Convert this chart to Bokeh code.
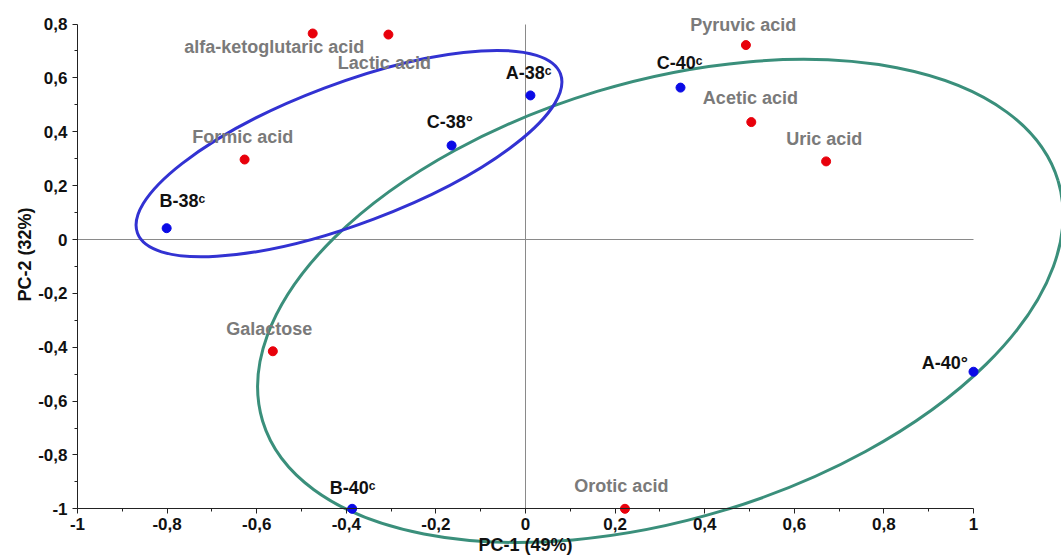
from bokeh.plotting import figure
from bokeh.models import LinearAxis, FixedTicker, CustomJSTickFormatter, Range1d, ColumnDataSource
from bokeh.core.properties import value
from bokeh.embed import file_html
from bokeh.resources import INLINE
import math

# ---------------- data ----------------
# metabolites (red)
met_names = ["alfa-ketoglutaric acid", "Lactic acid", "Formic acid", "Galactose",
             "Orotic acid", "Pyruvic acid", "Acetic acid", "Uric acid"]
met_x = [-0.475, -0.306, -0.627, -0.564, 0.222, 0.492, 0.504, 0.671]
met_y = [0.765, 0.761, 0.297, -0.415, -1.000, 0.722, 0.436, 0.290]
met_label_x = [-0.561, -0.315, -0.631, -0.572, 0.214, 0.486, 0.502, 0.667]
met_label_y = [0.713, 0.655, 0.381, -0.334, -0.916, 0.796, 0.525, 0.374]

# samples (blue)
smp_names = ["B-38\u1d9c", "C-38\u00b0", "A-38\u1d9c", "C-40\u1d9c", "A-40\u00b0", "B-40\u1d9c"]
smp_x = [-0.801, -0.165, 0.011, 0.346, 1.000, -0.387]
smp_y = [0.042, 0.349, 0.535, 0.564, -0.491, -1.000]
smp_label_x = [-0.766, -0.169, 0.007, 0.344, 0.936, -0.386]
smp_label_y = [0.142, 0.436, 0.618, 0.654, -0.459, -0.923]

# confidence ellipses: center (data), size (px), angle (deg)
ell_38 = dict(cx=-0.394, cy=0.319, w=452, h=140, angle=20.65)
ell_40 = dict(cx=0.301, cy=-0.228, w=831, h=438, angle=16.8)

x_ticks = [-1, -0.8, -0.6, -0.4, -0.2, 0, 0.2, 0.4, 0.6, 0.8, 1]
x_tick_labels = ["-1", "-0,8", "-0,6", "-0,4", "-0,2", "0", "0,2", "0,4", "0,6", "0,8", "1"]
x_minor = [-0.9, -0.7, -0.5, -0.3, -0.1, 0.1, 0.3, 0.5, 0.7, 0.9]
y_ticks = [-1, -0.8, -0.6, -0.4, -0.2, 0, 0.2, 0.4, 0.6, 0.8]
y_tick_labels = ["-1", "-0,8", "-0,6", "-0,4", "-0,2", "0", "0,2", "0,4", "0,6", "0,8"]
y_minor = [-0.9, -0.7, -0.5, -0.3, -0.1, 0.1, 0.3, 0.5, 0.7]

FONT = value("Liberation Sans")

p = figure(width=1061, height=560, output_backend="svg", toolbar_location=None,
           x_range=Range1d(-1.17188, 1.19643), y_range=Range1d(-1.19198, 0.88749),
           x_axis_location=None, y_axis_location=None, min_border=0)
p.outline_line_color = None
p.background_fill_color = "white"
p.xgrid.visible = False
p.ygrid.visible = False


def fmt(tick_vals, tick_labels):
    return CustomJSTickFormatter(args=dict(tv=tick_vals, tl=tick_labels), code="""
        for (let i = 0; i < tv.length; i++) {
            if (Math.abs(tv[i] - tick) < 1e-6) return tl[i];
        }
        return '';
    """)


def style_axis(ax):
    ax.axis_line_color = "#222222"
    ax.axis_line_width = 1
    ax.major_tick_line_color = "#222222"
    ax.minor_tick_line_color = "#222222"
    ax.major_tick_in = 0
    ax.major_tick_out = 5
    ax.minor_tick_in = 0
    ax.minor_tick_out = 3
    ax.major_label_text_font = "Liberation Sans"
    ax.major_label_text_font_style = "bold"
    ax.major_label_text_font_size = "17px"
    ax.major_label_text_color = "#111111"
    ax.axis_label_text_font = "Liberation Sans"
    ax.axis_label_text_font_style = "bold"
    ax.axis_label_text_font_size = "18px"
    ax.axis_label_text_color = "#111111"


# center reference lines (as unticked axes)
hx = LinearAxis(fixed_location=0, bounds=(-1, 1), ticker=FixedTicker(ticks=[]),
                axis_line_color="#8a8a8a", axis_line_width=1, major_tick_out=0,
                minor_tick_out=0, major_label_text_alpha=0, level="underlay")
vy = LinearAxis(fixed_location=0, bounds=(-1, 0.8), ticker=FixedTicker(ticks=[]),
                axis_line_color="#8a8a8a", axis_line_width=1, major_tick_out=0,
                minor_tick_out=0, major_label_text_alpha=0, level="underlay")
p.add_layout(hx, "below")
p.add_layout(vy, "left")

xaxis = LinearAxis(fixed_location=-1, bounds=(-1, 1),
                   ticker=FixedTicker(ticks=x_ticks, minor_ticks=x_minor),
                   formatter=fmt(x_ticks, x_tick_labels), axis_label="PC-1 (49%)")
style_axis(xaxis)
xaxis.major_label_standoff = 4
xaxis.axis_label_standoff = 2
p.add_layout(xaxis, "below")

yaxis = LinearAxis(fixed_location=-1, bounds=(-1, 0.8),
                   ticker=FixedTicker(ticks=y_ticks, minor_ticks=y_minor),
                   formatter=fmt(y_ticks, y_tick_labels))
style_axis(yaxis)
yaxis.major_label_standoff = 5
p.add_layout(yaxis, "left")

# y-axis title carried by a line-less axis so it sits where the reference has it
ytitle = LinearAxis(fixed_location=-1, bounds=(-1, 0.933), ticker=FixedTicker(ticks=[]),
                    axis_line_color=None, major_tick_out=0, minor_tick_out=0,
                    major_label_standoff=0, axis_label="PC-2 (32%)")
style_axis(ytitle)
ytitle.axis_line_color = None
ytitle.major_tick_out = 0
ytitle.minor_tick_out = 0
ytitle.axis_label_standoff = 43
p.add_layout(ytitle, "left")

# ellipses
for e, col in ((ell_40, "#3a8f7b"), (ell_38, "#3232d2")):
    p.ellipse(x=[e["cx"]], y=[e["cy"]], width=[e["w"]], height=[e["h"]],
              angle=[math.radians(e["angle"])], width_units="screen", height_units="screen",
              fill_color=None, line_color=col, line_width=3)

# points
met_src = ColumnDataSource(dict(x=met_x, y=met_y, lx=met_label_x, ly=met_label_y, t=met_names))
smp_src = ColumnDataSource(dict(x=smp_x, y=smp_y, lx=smp_label_x, ly=smp_label_y, t=smp_names))

p.scatter("x", "y", source=met_src, size=9, color="#e8000b")
p.scatter("x", "y", source=smp_src, size=9, color="#0a0ae6")

p.text("lx", "ly", text="t", source=met_src, text_align="center", text_baseline="middle",
       text_font=FONT, text_font_style="bold", text_font_size="18px", text_color="#7a7a7a")
p.text("lx", "ly", text="t", source=smp_src, text_align="center", text_baseline="middle",
       text_font=FONT, text_font_style="bold", text_font_size="18px", text_color="#111111")

open("out.html", "w").write(file_html(p, INLINE))
